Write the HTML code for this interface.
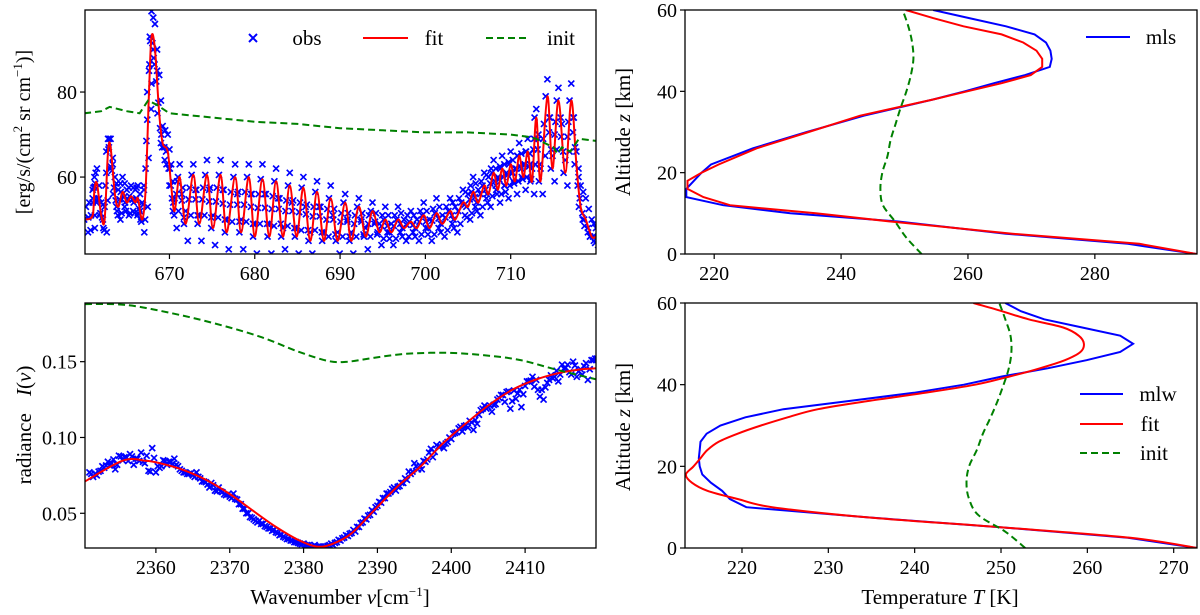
<!DOCTYPE html>
<html><head><meta charset="utf-8">
<style>
html,body{margin:0;padding:0;background:#fff;}
svg{display:block;font-family:"Liberation Serif","DejaVu Serif",serif;}
</style></head>
<body>
<svg id="fig" width="1200" height="615" viewBox="0 0 1200 615" xmlns="http://www.w3.org/2000/svg"></svg>
<script>
// ---------- data: top-left (CO2 15um band) ----------
const tlX=[660.2,661,661.2,661.5,662,662.4,662.8,663.1,663.6,664,664.5,665,665.5,666,666.3,666.8,667.2,667.6,667.9,668.3,668.8,669.2,669.8,670.2,670.6,671.2,671.9,672.8,673.5,674.4,675.1,676,676.7,677.7,678.4,679.3,680,680.9,681.7,682.5,683.3,684.1,684.9,685.7,686.5,687.3,688.1,688.9,689.7,690.6,691.3,692.2,693,693.8,694.6,695.3,696,696.8,697.5,698.3,699,699.8,700.5,701.3,702,702.9,703.5,704.4,705,705.6,706.2,706.9,707.4,708,708.5,709,709.5,710,710.5,711,711.5,712,712.5,713,713.5,714.3,714.9,715.6,716.4,717.1,717.7,718.2,718.8,719.5,720];
const tlFit=[50,51,57,58.5,51,50,66,67,56,53,56.5,54,55.5,54,55,50,57,80,93,90,75,68,66,58,52,60,49,60.5,49,60.5,48,60.5,47,60,47,60,46,59.5,46,59,46,58,46,57.5,45,56.5,45,55,45,54,45,53,46,52,47,50,47,50,48,49.5,48,51,48,51.5,49,52,50,54,53,56.5,54,58,56,61,57,62,58,63,59,65,60,66,59,74,59,79,62,78,61,78,63,53,50,46,46];
const tlObsHi=[53,55,60,62,54,53,69,69,60,57,60,57,58,57,58,54,62,85,99,96,84,72,70,63,55,63,52,63,51,64,51,64,50,63,50,63,49,63,49,62,48,61,48,60,47,59,47,58,47,56,47,55,48,54,49,53,49,53,50,52,50,54,50,55,51,55,53,57,56,60,57,61,60,64,60,65,61,66,62,68,63,69,62,76,62,83,65,81,64,82,66,58,55,50,48];
const tlObsLo=[47,48,54,55,48,47,62,63,52,50,53,51,52,51,52,47,53,76,88,85,70,64,62,54,48,56,45,57,45,57,44,57,43,56,43,56,42,56,42,55,43,54,42,53,42,53,41,51,42,50,42,50,43,49,44,47,44,47,45,47,45,48,45,48,46,49,47,51,50,53,51,55,53,58,54,58,55,61,56,62,57,63,56,70,56,74,59,74,58,74,60,50,47,45,44];
const tlInitX=[660,662,663,665,666.5,667.5,668.5,670,675,680,685,690,695,700,705,710,712,713,714,715,715.5,716,717,718,720];
const tlInit=[75,75.5,76.5,75.5,75,78,77,75,74,73,72.5,71.5,71,70.5,70.5,70,69.5,69,68,67,65.5,67,66,69,68.5];
const tlXTicks=[670,680,690,700,710];
const tlYTicks=[60,80];
// ---------- data: bottom-left (4.3um band) ----------
const blFitX=[2350.4,2355.5,2358.6,2360.6,2363.7,2366.8,2370,2373,2376.2,2379.3,2381.8,2383.9,2386.5,2389.6,2392.7,2395.8,2398.9,2402,2405.1,2408.2,2411.3,2414.4,2417.5,2419.6];
const blFit=[0.071,0.0847,0.0847,0.083,0.0786,0.072,0.0627,0.0522,0.0412,0.0324,0.028,0.0298,0.0368,0.0522,0.0676,0.0808,0.0962,0.1093,0.1214,0.1313,0.1379,0.1423,0.1449,0.1456];
const blInitX=[2350.4,2356,2362.2,2367.9,2374.1,2379.3,2383.4,2386,2389.6,2393.7,2398.9,2404.1,2409.3,2414.4,2419.6];
const blInit=[0.188,0.1874,0.1819,0.1753,0.1665,0.1566,0.1504,0.15,0.1526,0.1551,0.1559,0.1544,0.1511,0.1445,0.1384];
const blObsX=[2351,2352,2353,2354,2355,2356,2357,2358,2359,2360,2361,2362,2363,2364,2365,2366,2367,2368,2369,2370,2371,2372,2373,2374,2375,2376,2377,2378,2379,2380,2381,2382,2383,2384,2385,2386,2387,2388,2389,2390,2391,2392,2393,2394,2395,2396,2397,2398,2399,2400,2401,2402,2403,2404,2405,2406,2407,2408,2409,2410,2411,2412,2413,2414,2415,2416,2417,2418,2419];
const blObs=[0.077,0.075,0.080,0.083,0.088,0.087,0.082,0.090,0.078,0.077,0.085,0.084,0.081,0.077,0.075,0.073,0.069,0.065,0.064,0.061,0.059,0.053,0.047,0.045,0.041,0.039,0.036,0.033,0.031,0.030,0.028,0.028,0.028,0.029,0.032,0.035,0.038,0.044,0.049,0.055,0.060,0.066,0.068,0.072,0.083,0.079,0.090,0.095,0.093,0.099,0.106,0.108,0.105,0.118,0.120,0.122,0.128,0.119,0.129,0.134,0.140,0.127,0.136,0.140,0.148,0.143,0.140,0.147,0.151];
const blObs2=[0.074,0.078,0.084,0.079,0.085,0.089,0.086,0.083,0.093,0.080,0.082,0.086,0.078,0.076,0.077,0.071,0.070,0.067,0.062,0.063,0.056,0.050,0.045,0.043,0.040,0.037,0.034,0.032,0.030,0.029,0.029,0.027,0.029,0.031,0.034,0.037,0.041,0.046,0.051,0.057,0.063,0.065,0.070,0.076,0.079,0.084,0.087,0.094,0.097,0.103,0.104,0.111,0.109,0.121,0.117,0.126,0.130,0.131,0.120,0.137,0.138,0.125,0.141,0.137,0.146,0.150,0.145,0.138,0.152];
const blXTicks=[2360,2370,2380,2390,2400,2410];
const blYTicks=[0.05,0.10,0.15];
// ---------- data: top-right (mls) ----------
const trZ=[0,2.5,5,8,10,12,14,16,18,20,22,26,30,34,38,40,42,44,46,48,50,52,54,56,58,60];
const trMls=[296,285.2,266,249,232,221.4,215.6,215.6,216.8,218,219.5,226.1,234.6,243.6,254.5,259.5,264.1,269,272.9,273.2,273,272.3,270.5,266,260.2,254.5];
const trFit=[296,287,267,247.8,236,222.5,218.3,215.8,215.8,218,220.7,226.7,234.9,243,254.5,259.9,265.3,269.9,271.7,271.7,270.8,268.7,265.3,259.3,254.5,250.2];
const trInitZ=[0,4,8,12,16,20,24,28,32,36,40,44,48,52,56,60];
const trInit=[252.7,250.3,248.5,246.6,246.2,246.5,247.3,247.8,248.6,249.4,250.3,251,251.4,251.2,250.6,249.7];
const trXTicks=[220,240,260,280];
// ---------- data: bottom-right (mlw) ----------
const brZ=[0,2.5,5,7.5,10,12,14,16,18,20,22,24,26,28,30,32,34,36,38,40,42,44,46,48,50,52,54,56,58,60];
const brMlw=[272.7,264.7,250.5,234.6,220.5,218.6,217.7,216.4,215.4,215.1,215,215.1,215.2,215.9,217.5,220.4,224.8,232.4,239.9,245.7,250.1,255.4,259.9,263.8,265.3,263.8,259.4,255,252.3,250.5];
const brFit=[272.7,265,250.5,234.6,223.5,219.5,216,214.2,213.5,214.4,215.2,216,217.3,219.5,222.2,225.3,228.8,234.6,241.2,247,251,254.5,257.4,259.2,259.6,259,257.2,253.2,250.1,246.8];
const brInitZ=[0,4,8,12,16,20,24,28,32,36,40,44,48,52,56,60];
const brInit=[252.8,250.5,247.4,246.3,246,246.3,247.2,247.9,248.8,249.6,250.3,250.9,251.2,251.1,250.5,249.8];
const brXTicks=[220,230,240,250,260,270];
const zTicks=[0,20,40,60];

const NS='http://www.w3.org/2000/svg';
const svg=document.getElementById('fig');
function el(tag,attrs,parent){const e=document.createElementNS(NS,tag);for(const k in attrs)e.setAttribute(k,attrs[k]);(parent||svg).appendChild(e);return e;}
function mk(x0,x1,y0,y1,L,R,T,B){return{sx:v=>L+(v-x0)/(x1-x0)*(R-L),sy:v=>B-(v-y0)/(y1-y0)*(B-T),L,R,T,B};}
function clip(id,p){const d=el('clipPath',{id});el('rect',{x:p.L,y:p.T,width:p.R-p.L,height:p.B-p.T},d);}
function path(g,p,xs,ys,color,dash,name,cp,smooth){
  const P=xs.map((x,i)=>[p.sx(x),p.sy(ys[i])]);
  let d='M'+P[0][0].toFixed(1)+','+P[0][1].toFixed(1);
  for(let i=0;i<P.length-1;i++){
    if(smooth){const a=P[Math.max(0,i-1)],b=P[i],c=P[i+1],e=P[Math.min(P.length-1,i+2)];
      const c1=[b[0]+(c[0]-a[0])/6,b[1]+(c[1]-a[1])/6],c2=[c[0]-(e[0]-b[0])/6,c[1]-(e[1]-b[1])/6];
      d+='C'+c1[0].toFixed(1)+','+c1[1].toFixed(1)+' '+c2[0].toFixed(1)+','+c2[1].toFixed(1)+' '+c[0].toFixed(1)+','+c[1].toFixed(1);}
    else d+='L'+P[i+1][0].toFixed(1)+','+P[i+1][1].toFixed(1);
  }
  const e=el('path',{d,fill:'none',stroke:color,'stroke-width':2,'stroke-dasharray':dash||'none','clip-path':'url(#'+cp+')'},g);
  
  
}
function marks(g,p,xs,ys,name,cp){
  const gg=el('g',{'clip-path':'url(#'+cp+')',stroke:'#0000ff','stroke-width':1.7},g);
  
  
  for(let i=0;i<xs.length;i++){const x=p.sx(xs[i]),y=p.sy(ys[i]),s=3;
    el('path',{d:`M${x-s},${y-s}L${x+s},${y+s}M${x-s},${y+s}L${x+s},${y-s}`},gg);}
}
function axes(g,p,xt,xlab,yt,ylab){
  const b=el('rect',{x:p.L,y:p.T,width:p.R-p.L,height:p.B-p.T,fill:'none',stroke:'#000','stroke-width':1.3},g);
  
  xt.forEach((v,i)=>{const x=p.sx(v);el('line',{x1:x,x2:x,y1:p.B,y2:p.B+5,stroke:'#000','stroke-width':1.2},g);
    const t=el('text',{x,y:p.B+26,'text-anchor':'middle','font-size':20},g);t.textContent=xlab[i];
    });
  yt.forEach((v,i)=>{const y=p.sy(v);el('line',{x1:p.L-5,x2:p.L,y1:y,y2:y,stroke:'#000','stroke-width':1.2},g);
    const t=el('text',{x:p.L-8,y:y+7,'text-anchor':'end','font-size':20},g);t.textContent=ylab[i];
    });
}
function txt(g,x,y,s,name,rot,size){const t=el('text',{x,y,'font-size':size||19,'text-anchor':'middle',transform:rot?`rotate(-90 ${x} ${y})`:''},g);t.innerHTML=s;return t;}
function mids(a){const r=[];for(let i=0;i<a.length-1;i++)r.push((a[i]+a[i+1])/2);return r;}

const pTL=mk(660.1,720,41.9,99.3,85,596,10,254);
const pBL=mk(2350.4,2419.6,0.0271,0.1887,85,596,303,548);
const pTR=mk(215.4,296.1,0,60,685,1197,10,254);
const pBR=mk(213.4,272.7,0,60,685,1197,303,548);
clip('cTL',pTL);clip('cBL',pBL);clip('cTR',pTR);clip('cBR',pBR);

// top-left
let g=el('g',{});
marks(g,pTL,tlX,tlObsHi,'obs-points-high','cTL');
marks(g,pTL,tlX.map(v=>v+0.25),tlObsLo,'obs-points-low','cTL');
marks(g,pTL,tlX.map(v=>v-0.2),tlFit,'obs-points-mid','cTL');
marks(g,pTL,mids(tlX),mids(tlObsHi),'obs-points-between-high','cTL');
marks(g,pTL,mids(tlX).map(v=>v+0.15),mids(tlObsLo),'obs-points-between-low','cTL');
marks(g,pTL,mids(tlX).map(v=>v-0.1),mids(tlFit),'obs-points-between-mid','cTL');
path(g,pTL,tlX,tlFit,'#ff0000',null,'fit-line','cTL',true);
path(g,pTL,tlInitX,tlInit,'#008000','7,4','init-line','cTL');
axes(g,pTL,tlXTicks,tlXTicks.map(String),tlYTicks,tlYTicks.map(String));
txt(g,30,132,'[erg/s/(cm<tspan font-size="13" dy="-8">2</tspan><tspan dy="8"> sr cm</tspan><tspan font-size="13" dy="-8">−1</tspan><tspan dy="8">)]</tspan>','y-axis-title',true,20);
let lg=el('g',{});g.appendChild(lg);
el('path',{d:'M249,34L257,42M249,42L257,34',stroke:'#0000ff','stroke-width':2},lg);
txt(lg,307,45,'obs','legend-entry-obs',false,21);
el('line',{x1:363,x2:408,y1:38,y2:38,stroke:'#ff0000','stroke-width':2},lg);
txt(lg,434,45,'fit','legend-entry-fit',false,21);
el('line',{x1:486,x2:529,y1:38,y2:38,stroke:'#008000','stroke-width':2,'stroke-dasharray':'7,4'},lg);
txt(lg,561,45,'init','legend-entry-init',false,21);

// bottom-left
g=el('g',{});
marks(g,pBL,blObsX,blObs,'obs-points','cBL');
marks(g,pBL,blObsX.map(v=>v+0.5),blObs2,'obs-points-2','cBL');
marks(g,pBL,blObsX.map(v=>v+0.25),mids(blObs.concat([blObs[blObs.length-1]])),'obs-points-3','cBL');
marks(g,pBL,blObsX.map(v=>v+0.75),mids(blObs2.concat([blObs2[blObs2.length-1]])),'obs-points-4','cBL');
path(g,pBL,blFitX,blFit,'#ff0000',null,'fit-line','cBL',true);
path(g,pBL,blInitX,blInit,'#008000','7,4','init-line','cBL',true);
axes(g,pBL,blXTicks,blXTicks.map(String),blYTicks,blYTicks.map(v=>v.toFixed(2)));
txt(g,31,425,'radiance <tspan dx="12" font-style="italic">I</tspan>(<tspan font-style="italic">ν</tspan>)','y-axis-title',true,21);
txt(g,340,604,'Wavenumber <tspan font-style="italic">ν</tspan>[cm<tspan font-size="13" dy="-8">−1</tspan><tspan dy="8">]</tspan>','x-axis-title',false,21);

// top-right
g=el('g',{});
path(g,pTR,trMls,trZ,'#0000ff',null,'mls-line','cTR');
path(g,pTR,trFit,trZ,'#ff0000',null,'fit-line','cTR');
path(g,pTR,trInit,trInitZ,'#008000','7,4','init-line','cTR',true);
axes(g,pTR,trXTicks,trXTicks.map(String),zTicks,zTicks.map(String));
txt(g,630,132,'Altitude <tspan font-style="italic">z</tspan> [km]','y-axis-title',true,21);
lg=el('g',{});g.appendChild(lg);
el('line',{x1:1086,x2:1130,y1:37,y2:37,stroke:'#0000ff','stroke-width':2},lg);
txt(lg,1161,44,'mls','legend-entry-mls',false,21);

// bottom-right
g=el('g',{});
path(g,pBR,brMlw,brZ,'#0000ff',null,'mlw-line','cBR');
path(g,pBR,brFit,brZ,'#ff0000',null,'fit-line','cBR',true);
path(g,pBR,brInit,brInitZ,'#008000','7,4','init-line','cBR',true);
axes(g,pBR,brXTicks,brXTicks.map(String),zTicks,zTicks.map(String));
txt(g,630,427,'Altitude <tspan font-style="italic">z</tspan> [km]','y-axis-title',true,21);
txt(g,940,604,'Temperature <tspan font-style="italic">T</tspan> [K]','x-axis-title',false,21);
lg=el('g',{});g.appendChild(lg);
el('line',{x1:1080,x2:1123,y1:394,y2:394,stroke:'#0000ff','stroke-width':2},lg);
txt(lg,1158,401,'mlw','legend-entry-mlw',false,21);
el('line',{x1:1080,x2:1123,y1:424,y2:424,stroke:'#ff0000','stroke-width':2},lg);
txt(lg,1150,431,'fit','legend-entry-fit',false,21);
el('line',{x1:1080,x2:1123,y1:453,y2:453,stroke:'#008000','stroke-width':2,'stroke-dasharray':'7,4'},lg);
txt(lg,1154,460,'init','legend-entry-init',false,21);
</script>
</body></html>
